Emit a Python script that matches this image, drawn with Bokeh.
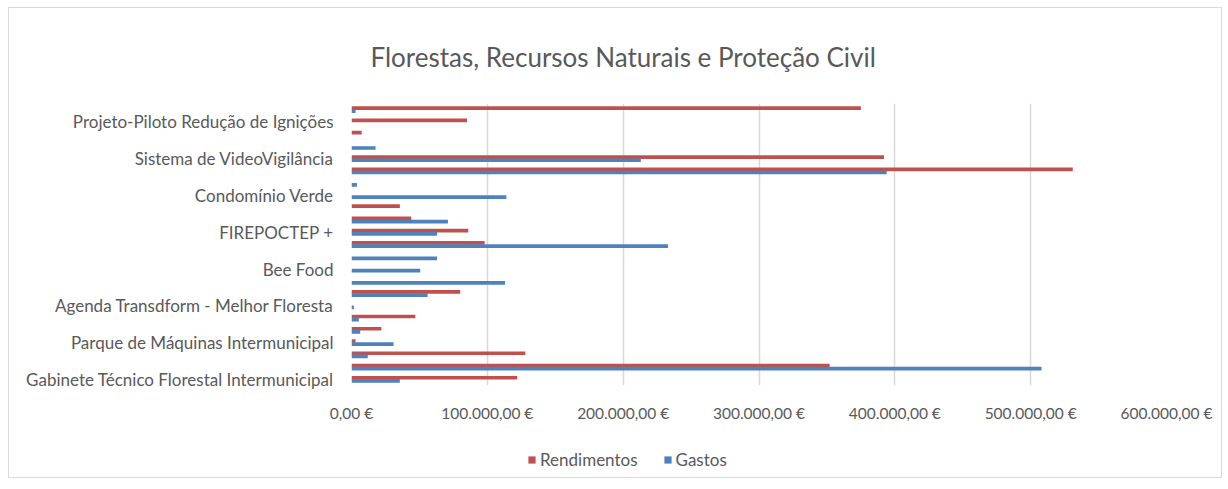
from bokeh.plotting import figure
from bokeh.layouts import column
from bokeh.models import Range1d, FixedTicker, Legend, LegendItem, ColumnDataSource
from bokeh.transform import dodge
from bokeh.embed import file_html
from bokeh.resources import INLINE

title_text = "Florestas, Recursos Naturais e Proteção Civil"

# 23 category slots, top to bottom; only every third one carries a label
slots = list(range(23))
label_slots = [1, 4, 7, 10, 13, 16, 19, 22]
category_labels = [
    "Projeto-Piloto Redução de Ignições",
    "Sistema de VideoVigilância",
    "Condomínio Verde",
    "FIREPOCTEP +",
    "Bee Food",
    "Agenda Transdform - Melhor Floresta",
    "Parque de Máquinas Intermunicipal",
    "Gabinete Técnico Florestal Intermunicipal",
]

rendimentos = [375000, 85000, 7500, 0, 392000, 531000, 0, 0, 35600, 44000, 86000, 98000,
               0, 0, 0, 80000, 0, 47000, 22000, 3000, 128000, 352000, 122000]
gastos = [3000, 0, 0, 17700, 213000, 394000, 4000, 114000, 0, 71000, 63000, 233000,
          63000, 50600, 113000, 56000, 1700, 5400, 6400, 31000, 12000, 508000, 35600]

series_names = ["Rendimentos", "Gastos"]

x_ticks = [0, 100000, 200000, 300000, 400000, 500000, 600000]
x_tick_labels = ["0,00 €", "100.000,00 €", "200.000,00 €", "300.000,00 €",
                 "400.000,00 €", "500.000,00 €", "600.000,00 €"]

RED = "#C0504D"
BLUE = "#4F81BD"
TXT = "#595959"
FONT = "Lato"

src = ColumnDataSource(dict(slot=slots, rend=rendimentos, gast=gastos))

p = figure(width=1212, height=432, output_backend="svg", toolbar_location=None,
           x_range=Range1d(0, 600000), y_range=Range1d(22.5, -0.5),
           min_border_left=342, min_border_right=55, min_border_top=95,
           min_border_bottom=55)

p.hbar(y=dodge("slot", -0.13), right="rend", left=0, height=0.3,
       source=src, fill_color=RED, line_color=None)
p.hbar(y=dodge("slot", 0.13), right="gast", left=0, height=0.3,
       source=src, fill_color=BLUE, line_color=None)

p.title.text = title_text
p.title.align = "left"
p.title.offset = 19
p.title.text_font = FONT
p.title.text_font_size = "26px"
p.title.text_font_style = "normal"
p.title.text_color = TXT
p.title.standoff = 61

p.outline_line_color = None
p.ygrid.grid_line_color = None
p.xgrid.grid_line_color = "#d9d9d9"
p.xgrid.grid_line_width = 1.5

xa = p.xaxis[0]
xa.ticker = FixedTicker(ticks=x_ticks)
xa.major_label_overrides = {t: l for t, l in zip(x_ticks, x_tick_labels)}
xa.axis_line_color = None
xa.major_tick_line_color = None
xa.minor_tick_line_color = None
xa.major_tick_out = 0
xa.major_label_text_font = FONT
xa.major_label_text_font_size = "15.5px"
xa.major_label_text_color = TXT
xa.major_label_standoff = 18

ya = p.yaxis[0]
ya.ticker = FixedTicker(ticks=label_slots)
ya.major_label_overrides = {s: l for s, l in zip(label_slots, category_labels)}
ya.axis_line_color = None
ya.major_tick_line_color = None
ya.minor_tick_line_color = None
ya.major_tick_out = 0
ya.major_label_text_font = FONT
ya.major_label_text_font_size = "17px"
ya.major_label_text_color = TXT
ya.major_label_standoff = 18

# legend strip below the chart (its renderers use the same data, kept off-screen)
pl = figure(width=1212, height=37, output_backend="svg", toolbar_location=None,
            min_border=0, x_range=Range1d(0, 600000), y_range=Range1d(100, 101))
pl.axis.visible = False
pl.grid.grid_line_color = None
pl.outline_line_color = None
lr = pl.hbar(y="slot", right="rend", left=0, height=0.3, source=src,
             fill_color=RED, line_color=None)
lb = pl.hbar(y="slot", right="gast", left=0, height=0.3, source=src,
             fill_color=BLUE, line_color=None)
legend = Legend(items=[LegendItem(label=series_names[0], renderers=[lr]),
                       LegendItem(label=series_names[1], renderers=[lb])],
                orientation="horizontal", location=(176, 7),
                glyph_width=9, glyph_height=9, label_standoff=4, spacing=25,
                label_text_font=FONT, label_text_font_size="17px",
                label_text_color=TXT, border_line_color=None,
                background_fill_alpha=0, margin=0, padding=5)
pl.add_layout(legend)

layout = column(p, pl, spacing=0,
                styles={"border": "1px solid #d9d9d9", "margin": "7px 0px 0px 8px"})

open("out.html", "w").write(file_html(layout, INLINE))
